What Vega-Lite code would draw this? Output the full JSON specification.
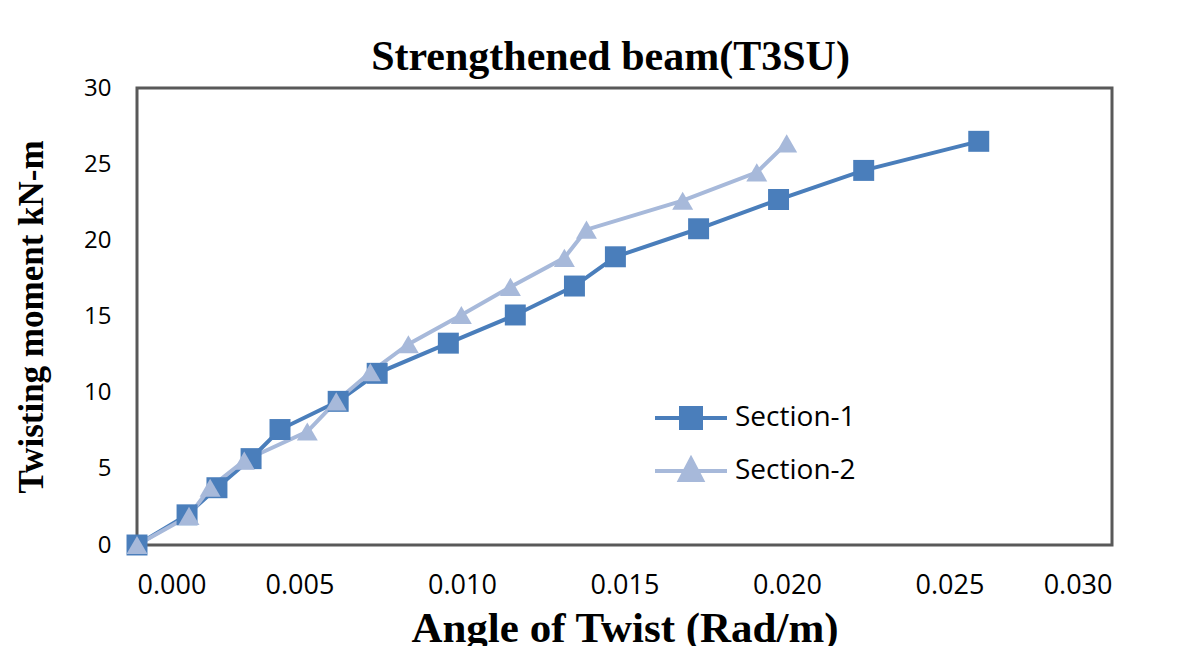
{
  "$schema": "https://vega.github.io/schema/vega-lite/v6.json",
  "width": 975,
  "height": 457,
  "autosize": {"type": "none"},
  "padding": {"left": 137, "top": 88, "right": 88, "bottom": 101},
  "background": "white",
  "config": {
    "view": {"stroke": "#595959", "strokeWidth": 3},
    "font": "Open Sans"
  },
  "title": {
    "text": "Strengthened beam(T3SU)",
    "font": "Liberation Serif",
    "fontSize": 42,
    "fontWeight": "bold",
    "color": "#000000",
    "anchor": "middle",
    "offset": -3,
    "dx": -14
  },
  "data": {
    "values": [
      {"series": "Section-1", "angle": 0, "moment": 0},
      {"series": "Section-1", "angle": 0.00154, "moment": 1.98},
      {"series": "Section-1", "angle": 0.00246, "moment": 3.76},
      {"series": "Section-1", "angle": 0.00351, "moment": 5.67},
      {"series": "Section-1", "angle": 0.0044, "moment": 7.58},
      {"series": "Section-1", "angle": 0.00619, "moment": 9.43},
      {"series": "Section-1", "angle": 0.00739, "moment": 11.27},
      {"series": "Section-1", "angle": 0.00958, "moment": 13.25},
      {"series": "Section-1", "angle": 0.01164, "moment": 15.1},
      {"series": "Section-1", "angle": 0.01346, "moment": 17.0},
      {"series": "Section-1", "angle": 0.01472, "moment": 18.92},
      {"series": "Section-1", "angle": 0.01728, "moment": 20.76},
      {"series": "Section-1", "angle": 0.01974, "moment": 22.68},
      {"series": "Section-1", "angle": 0.02236, "moment": 24.59},
      {"series": "Section-1", "angle": 0.0259, "moment": 26.5},
      {"series": "Section-2", "angle": 0, "moment": 0},
      {"series": "Section-2", "angle": 0.0016, "moment": 1.91},
      {"series": "Section-2", "angle": 0.00225, "moment": 3.76},
      {"series": "Section-2", "angle": 0.0033, "moment": 5.54},
      {"series": "Section-2", "angle": 0.00524, "moment": 7.45},
      {"series": "Section-2", "angle": 0.00613, "moment": 9.43},
      {"series": "Section-2", "angle": 0.00718, "moment": 11.34},
      {"series": "Section-2", "angle": 0.00835, "moment": 13.18},
      {"series": "Section-2", "angle": 0.00998, "moment": 15.1},
      {"series": "Section-2", "angle": 0.01149, "moment": 16.94},
      {"series": "Section-2", "angle": 0.01315, "moment": 18.85},
      {"series": "Section-2", "angle": 0.01383, "moment": 20.7},
      {"series": "Section-2", "angle": 0.01679, "moment": 22.6},
      {"series": "Section-2", "angle": 0.01907, "moment": 24.46},
      {"series": "Section-2", "angle": 0.01999, "moment": 26.37}
    ]
  },
  "encoding": {
    "x": {
      "field": "angle",
      "type": "quantitative",
      "scale": {"domain": [0, 0.03], "nice": false, "zero": false},
      "axis": {
        "values": [0, 0.005, 0.01, 0.015, 0.02, 0.025, 0.03],
        "format": ".3f",
        "title": "Angle of Twist (Rad/m)",
        "titleFont": "Liberation Serif",
        "titleFontSize": 43,
        "titleFontWeight": "bold",
        "titleColor": "#000000",
        "titlePadding": 9,
        "labelFont": "Open Sans",
        "labelFontSize": 27,
        "labelColor": "#000000",
        "labelPadding": 27,
        "ticks": false,
        "domain": false,
        "grid": false
      }
    },
    "y": {
      "field": "moment",
      "type": "quantitative",
      "scale": {"domain": [0, 30], "nice": false},
      "axis": {
        "values": [0, 5, 10, 15, 20, 25, 30],
        "title": "Twisting moment kN-m",
        "titleFont": "Liberation Serif",
        "titleFontSize": 35,
        "titleFontWeight": "bold",
        "titleColor": "#000000",
        "titlePadding": 34,
        "labelFont": "Open Sans",
        "labelFontSize": 24,
        "labelColor": "#000000",
        "labelPadding": 26,
        "ticks": false,
        "domain": false,
        "grid": false
      }
    }
  },
  "layer": [
    {
      "mark": {"type": "line", "strokeWidth": 4},
      "encoding": {
        "color": {
          "field": "series",
          "type": "nominal",
          "scale": {"domain": ["Section-1", "Section-2"], "range": ["#4A7EBB", "#A7B9DA"]},
          "legend": {
            "orient": "none",
            "legendX": 540,
            "legendY": 316,
            "title": null,
            "labelFont": "Open Sans",
            "labelFontSize": 28,
            "labelColor": "#000000",
            "symbolSize": 400,
            "symbolStrokeWidth": 4,
            "labelOffset": 30,
            "rowPadding": 15,
            "encode": {
              "symbols": {
                "update": {
                  "shape": {"signal": "datum.value === 'Section-1' ? 'M-3.6,0H3.6M-1,-1H1V1H-1Z' : 'M-3.6,0H3.6M0,-1.2L1.1,0.9H-1.1Z'"},
                  "fill": {"signal": "datum.value === 'Section-1' ? '#4A7EBB' : '#A7B9DA'"},
                  "stroke": {"signal": "datum.value === 'Section-1' ? '#4A7EBB' : '#A7B9DA'"},
                  "strokeWidth": {"value": 4},
                  "opacity": {"value": 1}
                }
              }
            }
          }
        }
      }
    },
    {
      "transform": [{"filter": "datum.series === 'Section-1'"}],
      "mark": {"type": "point", "filled": true, "opacity": 1, "size": 440, "shape": "square", "color": "#4A7EBB"}
    },
    {
      "transform": [{"filter": "datum.series === 'Section-2'"}],
      "mark": {"type": "point", "filled": true, "opacity": 1, "size": 440, "shape": "triangle-up", "color": "#A7B9DA"}
    }
  ]
}
